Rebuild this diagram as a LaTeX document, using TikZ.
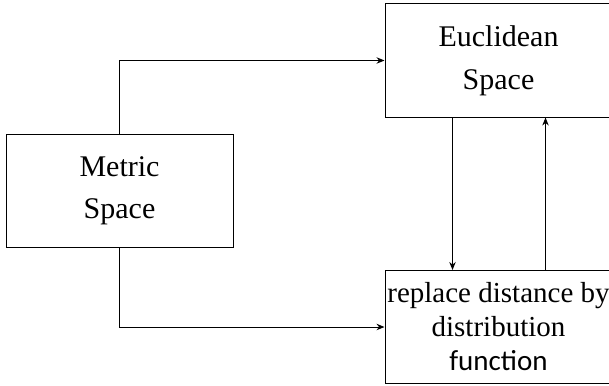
\documentclass[tikz,border=0pt]{standalone}
\usepackage{fontspec}
\setmainfont{Liberation Serif}
\newfontfamily\sansfn{Carlito}
\usetikzlibrary{arrows.meta}

\begin{document}
\begin{tikzpicture}[x=0.5pt,y=-0.5pt,
  box/.style={draw, line width=0.5pt, minimum width=113.5pt, minimum height=56.5pt, inner sep=0pt, align=center},
  arr/.style={line width=0.5pt, -{Stealth[length=4pt,width=3.2pt]}}]
\clip (0,0) rectangle (609,385);
\node[box, font=\fontsize{15}{21}\selectfont] (metric) at (119.5,190.5) {Metric\\Space};
\node[box, font=\fontsize{15}{21.5}\selectfont] (euclid) at (498.5,60.5) {Euclidean\\Space};
\node[box, font=\fontsize{14.5}{17}\selectfont] (dist) at (498.5,327) {replace distance by\\distribution\\{\sansfn function}};
%
\draw[arr] (metric.north) |- (euclid.west);
\draw[arr] (metric.south) |- (dist.west);
\draw[arr] ([xshift=-23pt]euclid.south) -- ([xshift=-23pt]dist.north);
\draw[arr] ([xshift=23.5pt]dist.north) -- ([xshift=23.5pt]euclid.south);
\end{tikzpicture}
\end{document}
